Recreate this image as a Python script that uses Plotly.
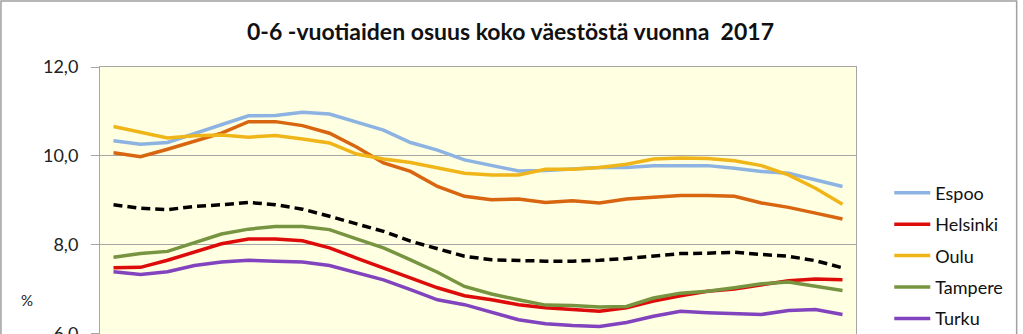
import plotly.graph_objects as go

# Vuodet (x-akselin luokat)
years = list(range(1990, 2018))

espoo = [10.34, 10.26, 10.30, 10.50, 10.70, 10.90, 10.91, 10.98, 10.94, 10.75,
         10.58, 10.30, 10.13, 9.91, 9.78, 9.66, 9.67, 9.71, 9.74, 9.74,
         9.78, 9.78, 9.78, 9.72, 9.65, 9.61, 9.46, 9.31]
helsinki = [7.48, 7.49, 7.65, 7.83, 8.02, 8.13, 8.13, 8.09, 7.93, 7.70,
            7.48, 7.25, 7.03, 6.85, 6.76, 6.65, 6.58, 6.54, 6.50, 6.58,
            6.73, 6.85, 6.95, 7.00, 7.10, 7.19, 7.23, 7.21]
oulu = [10.66, 10.53, 10.40, 10.45, 10.47, 10.42, 10.46, 10.38, 10.29, 10.04,
        9.93, 9.85, 9.72, 9.61, 9.57, 9.57, 9.70, 9.70, 9.74, 9.81,
        9.93, 9.95, 9.94, 9.89, 9.78, 9.57, 9.27, 8.91]
tampere = [7.72, 7.80, 7.85, 8.04, 8.24, 8.35, 8.41, 8.41, 8.34, 8.13,
           7.93, 7.66, 7.38, 7.06, 6.89, 6.76, 6.64, 6.63, 6.60, 6.61,
           6.80, 6.91, 6.95, 7.03, 7.12, 7.16, 7.06, 6.97]
turku = [7.39, 7.33, 7.39, 7.53, 7.61, 7.65, 7.63, 7.61, 7.53, 7.36,
         7.21, 6.99, 6.76, 6.65, 6.47, 6.31, 6.22, 6.18, 6.16, 6.25,
         6.39, 6.50, 6.47, 6.45, 6.43, 6.52, 6.54, 6.43]
vantaa = [10.07, 9.98, 10.15, 10.32, 10.51, 10.77, 10.77, 10.68, 10.51, 10.20,
          9.84, 9.65, 9.31, 9.09, 9.01, 9.03, 8.95, 8.99, 8.94, 9.03,
          9.07, 9.11, 9.11, 9.09, 8.94, 8.84, 8.71, 8.58]
koko_maa = [8.90, 8.82, 8.79, 8.86, 8.90, 8.95, 8.90, 8.80, 8.64, 8.47,
            8.30, 8.08, 7.90, 7.74, 7.66, 7.64, 7.63, 7.63, 7.65, 7.69,
            7.75, 7.80, 7.81, 7.83, 7.78, 7.74, 7.64, 7.48]

series = [
    ("Espoo", espoo, "#8DB3E2", "solid", True),
    ("Helsinki", helsinki, "#DE0B0B", "solid", True),
    ("Oulu", oulu, "#F0B619", "solid", True),
    ("Tampere", tampere, "#779440", "solid", True),
    ("Turku", turku, "#8244BE", "solid", True),
    ("Vantaa", vantaa, "#D8650F", "solid", False),
    ("Koko maa", koko_maa, "#000000", "9px,5px", False),
]

fig = go.Figure()
# Piirretään taustalle ensin sarjat, joilla ei ole selitettä
order = [5, 6, 0, 1, 2, 3, 4]
for k in order:
    name, vals, color, dash, legend = series[k]
    fig.add_trace(go.Scatter(
        x=years, y=vals, name=name, mode="lines",
        line=dict(color=color, width=3.5, dash=dash),
        showlegend=legend, legendgroup=name, legendrank=k,
    ))

font_family = "Lato, 'Open Sans', sans-serif"

fig.update_layout(
    width=1023, height=334,
    margin=dict(l=100, r=167, t=67, b=0, autoexpand=False),
    paper_bgcolor="white",
    plot_bgcolor="#FFFFE1",
    separators=", ",
    font=dict(family=font_family, size=14, color="#222222"),
    title=dict(
        text="<b>0-6 -vuotiaiden osuus koko väestöstä vuonna  2017</b>",
        x=0.499, xanchor="center", y=0.905, yanchor="middle",
        font=dict(size=23, color="#111111", family=font_family),
    ),
    xaxis=dict(
        type="category", range=[-0.5, 27.5],
        showgrid=False, showticklabels=False, ticks="",
        showline=True, linecolor="#A6A6A6", linewidth=1, mirror=True,
        zeroline=False,
    ),
    yaxis=dict(
        range=[5.99, 12], tickvals=[6, 8, 10, 12], tickformat=".1f",
        showgrid=True, gridcolor="#A6A6A6", gridwidth=1,
        ticks="outside", ticklen=8, tickcolor="#A6A6A6",
        ticklabelstandoff=9, ticklabeloverflow="allow",
        showline=True, linecolor="#A6A6A6", linewidth=1, mirror=True,
        zeroline=False, tickfont=dict(size=18, color="#222222"),
    ),
    legend=dict(
        x=1.044, xanchor="left", y=0.597, yanchor="top",
        font=dict(size=18, color="#111111"),
        tracegroupgap=5, itemwidth=36,
        bgcolor="rgba(0,0,0,0)",
    ),
    annotations=[dict(
        text="%", xref="paper", yref="paper", x=-0.0966, y=0.127,
        xanchor="center", yanchor="middle", showarrow=False,
        font=dict(size=15, color="#222222"),
    )],
    shapes=[dict(
        type="rect", xref="paper", yref="paper",
        x0=-0.131, x1=1.2125, y0=-0.1, y1=1.247,
        line=dict(color="#A0A0A0", width=1.5), fillcolor="rgba(0,0,0,0)",
        layer="below",
    )],
)

fig.write_html("out.html")
